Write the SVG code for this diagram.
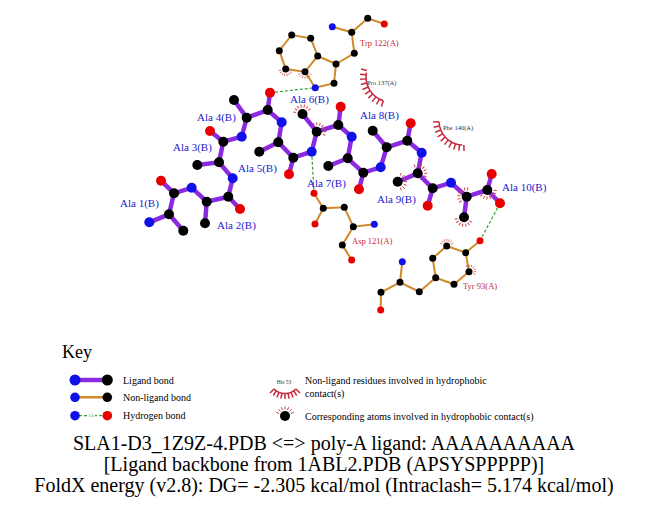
<svg xmlns="http://www.w3.org/2000/svg" xmlns:xlink="http://www.w3.org/1999/xlink" width="651" height="511" viewBox="0 0 651 511">
<style>
.lb{stroke:#8a2be2;stroke-width:4.5;stroke-linecap:round;fill:none}
.nb{stroke:#d08a2a;stroke-width:2;stroke-linecap:round;fill:none}
.hb{stroke:#33a033;stroke-width:1.2;stroke-dasharray:3,2;fill:none}
.C{fill:#000}
.N{fill:#1010e8}
.O{fill:#e80000}
.hc{stroke:#c8283c;stroke-width:1.5;fill:none}
.sp{stroke:#d04040;stroke-width:1;fill:none}
.ll{font-family:"Liberation Serif","Times New Roman",serif;font-size:11px;fill:#2020d0}
.rl{font-family:"Liberation Serif","Times New Roman",serif;font-size:8.5px;fill:#c8283c}
.tl{font-family:"Liberation Serif","Times New Roman",serif;font-size:6.5px;fill:#333}
.kt{font-family:"Liberation Serif","Times New Roman",serif;font-size:10px;fill:#000}
.tt{font-family:"Liberation Serif","Times New Roman",serif;font-size:20px;fill:#000;text-anchor:middle}
</style>
<defs>
<g id="hs" class="sp">
<line x1="6.5" y1="0" x2="9.5" y2="0"/>
<line x1="6" y1="2.49" x2="8.78" y2="3.63"/>
<line x1="6" y1="-2.49" x2="8.78" y2="-3.63"/>
<line x1="4.6" y1="4.6" x2="6.72" y2="6.72"/>
<line x1="4.6" y1="-4.6" x2="6.72" y2="-6.72"/>
<line x1="2.49" y1="6" x2="3.63" y2="8.78"/>
<line x1="2.49" y1="-6" x2="3.63" y2="-8.78"/>
</g>
<g id="hsn">
<use xlink:href="#hs" transform="scale(0.75)"/>
</g>
</defs>

<g id="connectors">
<path class="lb" d="M149.3,222.3 L169,214.3 L183.3,230.7 M169,214.3 L174,193.3 L161,180.7 M174,193.3 L191.7,187.7 L206.7,201.7 L205,223.3 M206.7,201.7 L228.3,196.7 L240,209 M228.3,196.7 L232.7,178.3 L219,162.3 L197.3,165 M219,162.3 L223.3,141.7 L210,131 M223.3,141.7 L241.7,136.7 L246.7,117.7 L234,100 M246.7,117.7 L267.7,110 L270,92.7 M267.7,110 L281.7,122.3 L278.3,142.3 L259.3,151.7 M278.3,142.3 L293.3,157.7 L289,174.3 M293.3,157.7 L311.7,151.7 L316.7,131.7 L302.5,114 M316.7,131.7 L338.3,125 L340.7,106.7 M338.3,125 L351.7,136.7 L347.7,158.3 L328.3,166 M347.7,158.3 L363.3,172.7 L359,189.3 M363.3,172.7 L380.7,167.3 L386.7,147.3 L372.7,130.7 M386.7,147.3 L407.3,140.7 L410.7,123.3 M407.3,140.7 L421.7,152.7 L417.7,173.3 L397.7,181.7 M417.7,173.3 L432.7,188.3 L427.7,205.7 M432.7,188.3 L451,182.7 L466.7,196.7 L464,217.3 M466.7,196.7 L487.3,190 L491.7,174 M487.3,190 L500,203.3"/>
<path class="nb" d="M332.3,26.7 L351.7,32.3 L367.7,18.3 L384.3,24 M351.7,32.3 L354.3,53.3 L336,64 L334,83.3 L315.3,87.7 L305,71.7 L317.7,56 L336,64 M317.7,56 L310.7,38.3 L291.7,35 L279.3,50.7 L285.7,69 L305,71.7"/>
<path class="nb" d="M314,193.3 L323.3,208.3 L315,224 M323.3,208.3 L344.3,207.3 L353.3,226.7 L374.3,224.3 M353.3,226.7 L342.3,245 L351.7,260"/>
<path class="nb" d="M480,240.7 L465.7,252.7 L446.7,246 L432.7,258.3 L435.7,277.7 L454,284.3 L469,271.7 L465.7,252.7 M435.7,277.7 L419.3,291.7 L400,282.3 L402.3,261.7 M400,282.3 L381,292.3 L380.7,310"/>
<path class="hb" d="M270,92.7 L315.3,87.7"/>
<path class="hb" d="M311.7,151.7 L314,193.3"/>
<path class="hb" d="M500,203.3 L480,240.7"/>
</g>

<g id="hydrophobic-marks">
<use xlink:href="#hsn" transform="translate(285.7,69) rotate(100)"/>
<use xlink:href="#hsn" transform="translate(305,71.7) rotate(90)"/>
<use xlink:href="#hs" transform="translate(302.5,114) rotate(-100)"/>
<use xlink:href="#hs" transform="translate(316.7,131.7) rotate(-45)"/>
<use xlink:href="#hs" transform="translate(417.7,173.3) rotate(-45)"/>
<use xlink:href="#hs" transform="translate(397.7,181.7) rotate(0)"/>
<use xlink:href="#hs" transform="translate(466.7,196.7) rotate(-150)"/>
<use xlink:href="#hs" transform="translate(464,217.3) rotate(100)"/>
<use xlink:href="#hs" transform="translate(487.3,190) rotate(70)"/>
<use xlink:href="#hsn" transform="translate(446.7,246) rotate(-90)"/>
<use xlink:href="#hsn" transform="translate(469,271.7) rotate(-45)"/>
</g>

<g id="ligand">
<circle class="N" cx="149.3" cy="222.3" r="5"/>
<circle class="C" cx="169" cy="214.3" r="5"/>
<circle class="C" cx="183.3" cy="230.7" r="5"/>
<circle class="C" cx="174" cy="193.3" r="5"/>
<circle class="O" cx="161" cy="180.7" r="5"/>
<circle class="N" cx="191.7" cy="187.7" r="5"/>
<circle class="C" cx="206.7" cy="201.7" r="5"/>
<circle class="C" cx="205" cy="223.3" r="5"/>
<circle class="C" cx="228.3" cy="196.7" r="5"/>
<circle class="O" cx="240" cy="209" r="5"/>
<circle class="N" cx="232.7" cy="178.3" r="5"/>
<circle class="C" cx="219" cy="162.3" r="5"/>
<circle class="C" cx="197.3" cy="165" r="5"/>
<circle class="C" cx="223.3" cy="141.7" r="5"/>
<circle class="O" cx="210" cy="131" r="5"/>
<circle class="N" cx="241.7" cy="136.7" r="5"/>
<circle class="C" cx="246.7" cy="117.7" r="5"/>
<circle class="C" cx="234" cy="100" r="5"/>
<circle class="C" cx="267.7" cy="110" r="5"/>
<circle class="O" cx="270" cy="92.7" r="5"/>
<circle class="N" cx="281.7" cy="122.3" r="5"/>
<circle class="C" cx="278.3" cy="142.3" r="5"/>
<circle class="C" cx="259.3" cy="151.7" r="5"/>
<circle class="C" cx="293.3" cy="157.7" r="5"/>
<circle class="O" cx="289" cy="174.3" r="5"/>
<circle class="N" cx="311.7" cy="151.7" r="5"/>
<circle class="C" cx="316.7" cy="131.7" r="5"/>
<circle class="C" cx="302.5" cy="114" r="5"/>
<circle class="C" cx="338.3" cy="125" r="5"/>
<circle class="O" cx="340.7" cy="106.7" r="5"/>
<circle class="N" cx="351.7" cy="136.7" r="5"/>
<circle class="C" cx="347.7" cy="158.3" r="5"/>
<circle class="C" cx="328.3" cy="166" r="5"/>
<circle class="C" cx="363.3" cy="172.7" r="5"/>
<circle class="O" cx="359" cy="189.3" r="5"/>
<circle class="N" cx="380.7" cy="167.3" r="5"/>
<circle class="C" cx="386.7" cy="147.3" r="5"/>
<circle class="C" cx="372.7" cy="130.7" r="5"/>
<circle class="C" cx="407.3" cy="140.7" r="5"/>
<circle class="O" cx="410.7" cy="123.3" r="5"/>
<circle class="N" cx="421.7" cy="152.7" r="5"/>
<circle class="C" cx="417.7" cy="173.3" r="5"/>
<circle class="C" cx="397.7" cy="181.7" r="5"/>
<circle class="C" cx="432.7" cy="188.3" r="5"/>
<circle class="O" cx="427.7" cy="205.7" r="5"/>
<circle class="N" cx="451" cy="182.7" r="5"/>
<circle class="C" cx="466.7" cy="196.7" r="5"/>
<circle class="C" cx="464" cy="217.3" r="5"/>
<circle class="C" cx="487.3" cy="190" r="5"/>
<circle class="O" cx="491.7" cy="174" r="5"/>
<circle class="O" cx="500" cy="203.3" r="5"/>
<text class="ll" x="120" y="207">Ala 1(B)</text>
<text class="ll" x="217" y="229">Ala 2(B)</text>
<text class="ll" x="173" y="151">Ala 3(B)</text>
<text class="ll" x="197" y="121">Ala 4(B)</text>
<text class="ll" x="238" y="172">Ala 5(B)</text>
<text class="ll" x="290" y="103">Ala 6(B)</text>
<text class="ll" x="307" y="187">Ala 7(B)</text>
<text class="ll" x="360" y="119">Ala 8(B)</text>
<text class="ll" x="377" y="203">Ala 9(B)</text>
<text class="ll" x="502" y="190.5">Ala 10(B)</text>
</g>

<g id="trp122">
<circle class="N" cx="332.3" cy="26.7" r="3.5"/>
<circle class="C" cx="351.7" cy="32.3" r="3.5"/>
<circle class="C" cx="367.7" cy="18.3" r="3.5"/>
<circle class="O" cx="384.3" cy="24" r="3.5"/>
<circle class="C" cx="354.3" cy="53.3" r="3.5"/>
<circle class="C" cx="336" cy="64" r="3.5"/>
<circle class="C" cx="334" cy="83.3" r="3.5"/>
<circle class="N" cx="315.3" cy="87.7" r="3.5"/>
<circle class="C" cx="305" cy="71.7" r="3.5"/>
<circle class="C" cx="317.7" cy="56" r="3.5"/>
<circle class="C" cx="310.7" cy="38.3" r="3.5"/>
<circle class="C" cx="291.7" cy="35" r="3.5"/>
<circle class="C" cx="279.3" cy="50.7" r="3.5"/>
<circle class="C" cx="285.7" cy="69" r="3.5"/>
<text class="rl" x="360" y="45.5">Trp 122(A)</text>
</g>

<g id="asp121">
<circle class="O" cx="314" cy="193.3" r="3.5"/>
<circle class="C" cx="323.3" cy="208.3" r="3.5"/>
<circle class="O" cx="315" cy="224" r="3.5"/>
<circle class="C" cx="344.3" cy="207.3" r="3.5"/>
<circle class="C" cx="353.3" cy="226.7" r="3.5"/>
<circle class="N" cx="374.3" cy="224.3" r="3.5"/>
<circle class="C" cx="342.3" cy="245" r="3.5"/>
<circle class="O" cx="351.7" cy="260" r="3.5"/>
<text class="rl" x="352" y="243.5">Asp 121(A)</text>
</g>

<g id="tyr93">
<circle class="O" cx="480" cy="240.7" r="3.5"/>
<circle class="C" cx="465.7" cy="252.7" r="3.5"/>
<circle class="C" cx="446.7" cy="246" r="3.5"/>
<circle class="C" cx="432.7" cy="258.3" r="3.5"/>
<circle class="C" cx="435.7" cy="277.7" r="3.5"/>
<circle class="C" cx="454" cy="284.3" r="3.5"/>
<circle class="C" cx="469" cy="271.7" r="3.5"/>
<circle class="C" cx="419.3" cy="291.7" r="3.5"/>
<circle class="C" cx="400" cy="282.3" r="3.5"/>
<circle class="N" cx="402.3" cy="261.7" r="3.5"/>
<circle class="C" cx="381" cy="292.3" r="3.5"/>
<circle class="O" cx="380.7" cy="310" r="3.5"/>
<text class="rl" x="463" y="289">Tyr 93(A)</text>
</g>

<g id="pro137" transform="translate(391,77)">
<path class="hc" d="M-7.7,23.8 A25,25 0 0 1 -24.6,-4.3"/>
<g class="hc">
<line x1="25" x2="31" transform="rotate(108)"/>
<line x1="25" x2="31" transform="rotate(117.7)"/>
<line x1="25" x2="31" transform="rotate(127.3)"/>
<line x1="25" x2="31" transform="rotate(137)"/>
<line x1="25" x2="31" transform="rotate(146.7)"/>
<line x1="25" x2="31" transform="rotate(156.3)"/>
<line x1="25" x2="31" transform="rotate(166)"/>
<line x1="25" x2="31" transform="rotate(175.7)"/>
<line x1="25" x2="31" transform="rotate(185.3)"/>
<line x1="25" x2="31" transform="rotate(195)"/>
</g>
<text class="tl" x="-24" y="8">Pro 137(A)</text>
</g>

<g id="phe140" transform="translate(463,121)">
<path class="hc" d="M-0.8,24 A24,24 0 0 1 -24,0.8"/>
<g class="hc">
<line x1="24" x2="30" transform="rotate(88)"/>
<line x1="24" x2="30" transform="rotate(98)"/>
<line x1="24" x2="30" transform="rotate(108)"/>
<line x1="24" x2="30" transform="rotate(118)"/>
<line x1="24" x2="30" transform="rotate(128)"/>
<line x1="24" x2="30" transform="rotate(138)"/>
<line x1="24" x2="30" transform="rotate(148)"/>
<line x1="24" x2="30" transform="rotate(158)"/>
<line x1="24" x2="30" transform="rotate(168)"/>
<line x1="24" x2="30" transform="rotate(178)"/>
</g>
<text class="tl" x="-20" y="9">Phe 140(A)</text>
</g>

<g id="key">
<text x="62" y="358" style="font-family:'Liberation Serif','Times New Roman',serif;font-size:18px;fill:#000">Key</text>
<line x1="75" y1="380" x2="107" y2="380" class="lb"/>
<circle class="N" cx="75" cy="380" r="5.5"/>
<circle class="C" cx="107.3" cy="380" r="5.5"/>
<text class="kt" x="123" y="384">Ligand bond</text>
<line x1="75" y1="397.3" x2="107" y2="397.3" class="nb" style="stroke-width:2.5"/>
<circle class="N" cx="75" cy="397.3" r="4.8"/>
<circle class="C" cx="107.3" cy="397.3" r="4.8"/>
<text class="kt" x="123" y="401">Non-ligand bond</text>
<line x1="79" y1="415.7" x2="103" y2="415.7" class="hb"/>
<circle class="N" cx="75" cy="415.7" r="4.8"/>
<circle class="O" cx="107.3" cy="415.7" r="4.8"/>
<rect x="87" y="413" width="8" height="5" fill="#fff"/>
<text x="91" y="417.2" style="font-family:'Liberation Serif',serif;font-size:4px;fill:#33a033;text-anchor:middle">3.0</text>
<text class="kt" x="123" y="419">Hydrogen bond</text>
<g transform="translate(285,377.5)">
<path class="hc" d="M11.1,11.5 A16,16 0 0 1 -11.1,11.5"/>
<g class="hc">
<line x1="16" x2="21.5" transform="rotate(46)"/>
<line x1="16" x2="21.5" transform="rotate(57)"/>
<line x1="16" x2="21.5" transform="rotate(68)"/>
<line x1="16" x2="21.5" transform="rotate(79)"/>
<line x1="16" x2="21.5" transform="rotate(90)"/>
<line x1="16" x2="21.5" transform="rotate(101)"/>
<line x1="16" x2="21.5" transform="rotate(112)"/>
<line x1="16" x2="21.5" transform="rotate(123)"/>
<line x1="16" x2="21.5" transform="rotate(134)"/>
</g>
</g>
<text x="284" y="384" style="font-family:'Liberation Serif',serif;font-size:5.5px;fill:#333;text-anchor:middle">His 53</text>
<text class="kt" x="305" y="384">Non-ligand residues involved in hydrophobic</text>
<text class="kt" x="305" y="397">contact(s)</text>
<circle class="C" cx="285" cy="416" r="5"/>
<use xlink:href="#hs" transform="translate(285,416) rotate(-90)"/>
<text class="kt" x="305" y="420">Corresponding atoms involved in hydrophobic contact(s)</text>
</g>

<g id="title">
<text class="tt" x="324" y="450">SLA1-D3_1Z9Z-4.PDB &lt;=&gt; poly-A ligand: AAAAAAAAAA</text>
<text class="tt" x="324" y="471">[Ligand backbone from 1ABL2.PDB (APSYSPPPPP)]</text>
<text class="tt" x="324" y="492">FoldX energy (v2.8): DG= -2.305 kcal/mol (Intraclash= 5.174 kcal/mol)</text>
</g>
</svg>
